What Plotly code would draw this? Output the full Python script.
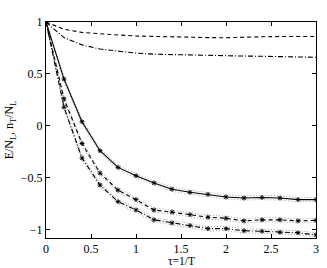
import plotly.graph_objects as go

tau = [0.0, 0.2, 0.4, 0.6, 0.8, 1.0, 1.2, 1.4, 1.6, 1.8, 2.0, 2.2, 2.4, 2.6, 2.8, 3.0]

# lower curves (with markers and dotted error envelopes)
e_solid = [1.0, 0.45, 0.04, -0.24, -0.40, -0.48, -0.55, -0.61, -0.64, -0.66, -0.685, -0.695, -0.69, -0.695, -0.71, -0.71]
e_dash = [1.0, 0.26, -0.17, -0.455, -0.62, -0.71, -0.81, -0.83, -0.855, -0.88, -0.89, -0.915, -0.905, -0.905, -0.915, -0.91]
e_dashdot = [1.0, 0.18, -0.31, -0.57, -0.73, -0.81, -0.905, -0.935, -0.96, -0.99, -0.99, -1.01, -1.015, -1.025, -1.03, -1.05]
err_solid = [0.0, 0.02, 0.02, 0.02, 0.02, 0.02, 0.02, 0.02, 0.02, 0.02, 0.02, 0.02, 0.02, 0.02, 0.02, 0.02]
err_dash = [0.0, 0.02, 0.02, 0.02, 0.02, 0.02, 0.02, 0.02, 0.02, 0.02, 0.02, 0.02, 0.02, 0.02, 0.02, 0.02]
err_dashdot = [0.0, 0.02, 0.02, 0.02, 0.02, 0.02, 0.02, 0.02, 0.02, 0.02, 0.02, 0.02, 0.02, 0.02, 0.02, 0.02]

# upper curves (no markers)
n_dash = [1.0, 0.93, 0.90, 0.885, 0.875, 0.865, 0.86, 0.855, 0.853, 0.85, 0.848, 0.855, 0.858, 0.86, 0.86, 0.86]
n_dashdot = [1.0, 0.85, 0.78, 0.74, 0.72, 0.70, 0.69, 0.685, 0.68, 0.678, 0.675, 0.672, 0.67, 0.668, 0.665, 0.66]

x_ticks = [0, 0.5, 1, 1.5, 2, 2.5, 3]
x_tick_text = ["0", "0.5", "1", "1.5", "2", "2.5", "3"]
y_ticks = [-1, -0.5, 0, 0.5, 1]
y_tick_text = ["\u22121", "\u22120.5", "0", "0.5", "1"]

SERIF = "Liberation Serif, Times New Roman, serif"
DASH = "4px,3px"
DASHDOT = "5px,2px,1px,2px"

fig = go.Figure()

def envelope(y, err):
    for s in (1, -1):
        fig.add_trace(go.Scatter(
            x=tau, y=[v + s * e for v, e in zip(y, err)], mode="lines",
            line=dict(color="#a0a0a0", width=1, dash="1px,2px"), showlegend=False))

for y, err in ((e_solid, err_solid), (e_dash, err_dash), (e_dashdot, err_dashdot)):
    envelope(y, err)

for y, dash in ((e_solid, "solid"), (e_dash, DASH), (e_dashdot, DASHDOT)):
    fig.add_trace(go.Scatter(
        x=tau, y=y, mode="lines+markers",
        line=dict(color="black", width=1.1, dash=dash),
        marker=dict(symbol="asterisk-open", size=4, color="black", line=dict(width=1, color="black")),
        showlegend=False))

for y, dash in ((n_dash, DASH), (n_dashdot, DASHDOT)):
    fig.add_trace(go.Scatter(
        x=tau, y=y, mode="lines",
        line=dict(color="black", width=1.1, dash=dash), showlegend=False))

axis_common = dict(
    showgrid=False, zeroline=False, showline=True, linecolor="black", linewidth=1,
    mirror="ticks", ticks="inside", ticklen=4, tickcolor="black",
    tickfont=dict(family=SERIF, size=12, color="black"),
    ticklabeloverflow="allow",
)

fig.update_layout(
    width=327, height=268,
    margin=dict(l=46, r=8, t=22, b=30),
    paper_bgcolor="white", plot_bgcolor="white",
    font=dict(family=SERIF, size=12, color="black"),
    xaxis=dict(range=[0, 3], tickvals=x_ticks, ticktext=x_tick_text, **axis_common),
    yaxis=dict(range=[-1.08, 1], tickvals=y_ticks, ticktext=y_tick_text,
               title=dict(text="E/N<sub>L</sub>, n<sub>T</sub>/N<sub>L</sub>", standoff=4,
                          font=dict(family=SERIF, size=12)),
               **axis_common),
    annotations=[dict(text="\u03c4=1/T", xref="paper", yref="paper", x=0.5, y=0,
                      yshift=-15, xanchor="center", yanchor="top", showarrow=False,
                      font=dict(family=SERIF, size=11.5, color="black"))],
)

fig.write_html(
    "out.html",
    config={"displayModeBar": False},
    post_script="document.body.style.margin='0';document.body.style.overflow='hidden';",
)
